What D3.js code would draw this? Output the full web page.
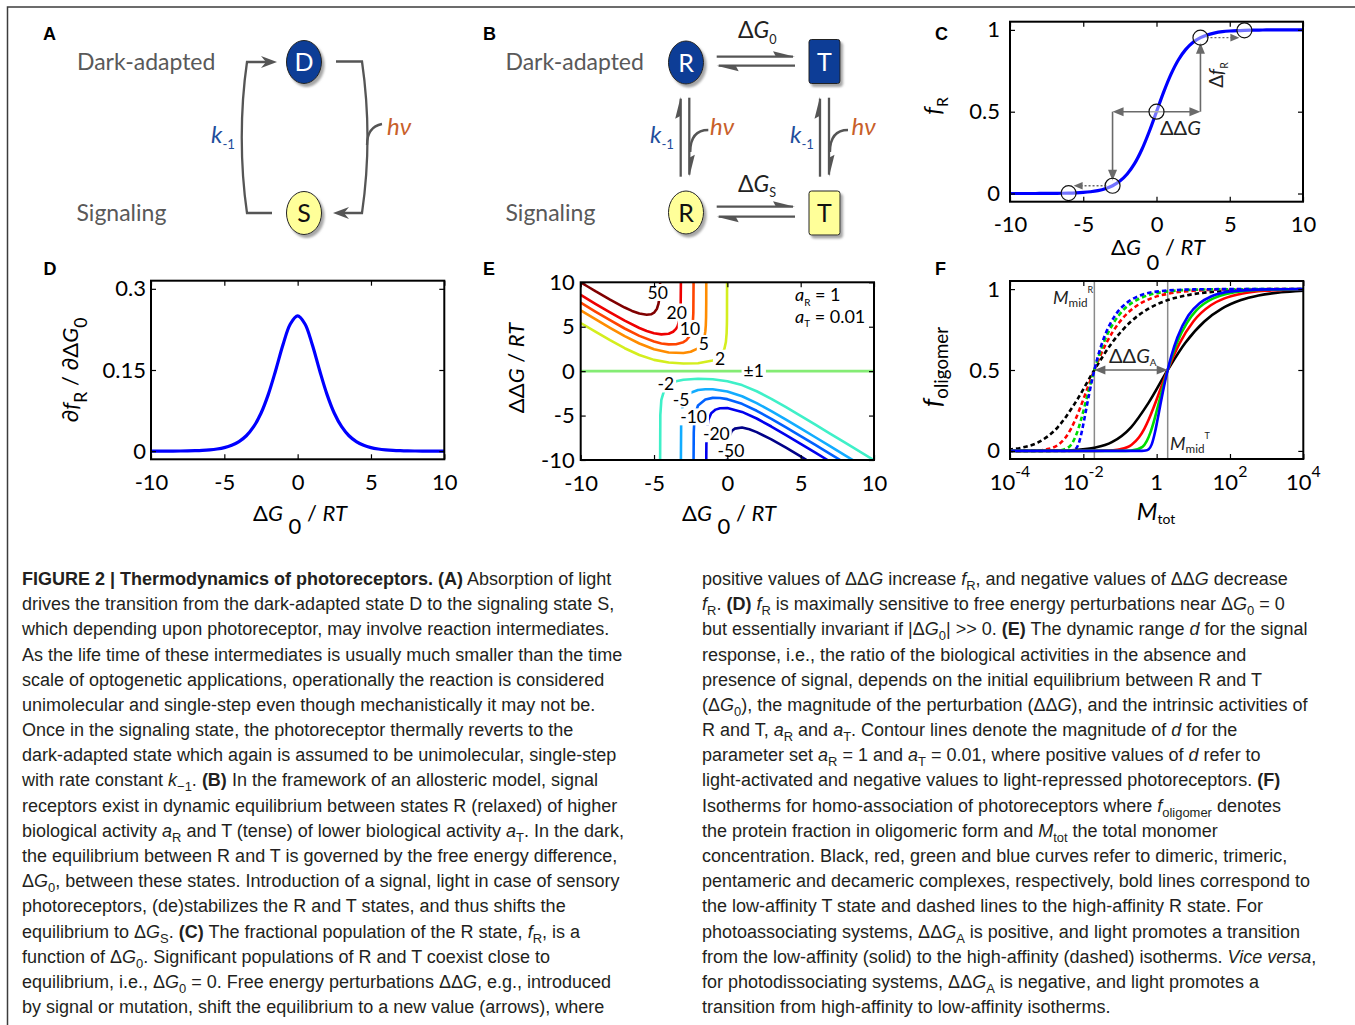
<!DOCTYPE html>
<html>
<head>
<meta charset="utf-8">
<script src="https://cdn.jsdelivr.net/npm/d3@7"></script>
<style>
  body { margin: 0; background: #fff; }
  svg { display: block; }
  text { font-family: Lato, 'Open Sans', 'DejaVu Sans', sans-serif; }
  .cap { font-family: 'Liberation Sans', Arial, sans-serif; font-size: 18px; fill: #231f20; }
  .plab { font-family: 'Liberation Sans', Arial, sans-serif; font-size: 18px; font-weight: bold; }
</style>
</head>
<body>
<svg id="fig" width="1355" height="1025"></svg>
<script>
// ---------- data ----------
// panel C / D : fraction of R state and its derivative vs dG0/RT
var gridX = [-10,-9.5,-9,-8.5,-8,-7.5,-7,-6.5,-6,-5.5,-5,-4.5,-4,-3.5,-3,-2.5,-2,-1.5,-1,-0.5,0,
             0.5,1,1.5,2,2.5,3,3.5,4,4.5,5,5.5,6,6.5,7,7.5,8,8.5,9,9.5,10];
var fR = [0.00005,0.00007,0.00012,0.0002,0.00034,0.00055,0.00091,0.0015,0.0025,0.0041,0.0067,0.011,0.018,0.0293,
          0.0474,0.0759,0.1192,0.1824,0.2689,0.3775,0.5,0.6225,0.7311,0.8176,0.8808,0.9241,0.9526,0.9707,0.982,
          0.989,0.9933,0.9959,0.9975,0.9985,0.99909,0.99945,0.99966,0.9998,0.99988,0.99993,0.99995];
var dfR = [0.00005,0.00007,0.00012,0.0002,0.00034,0.00055,0.00091,0.0015,0.0025,0.0041,0.0066,0.0109,0.0177,0.0285,
           0.0452,0.0701,0.105,0.1491,0.1966,0.235,0.25,0.235,0.1966,0.1491,0.105,0.0701,0.0452,0.0285,0.0177,
           0.0109,0.0066,0.0041,0.0025,0.0015,0.00091,0.00055,0.00034,0.0002,0.00012,0.00007,0.00005];
var markX = [-6, -3, 0, 3, 6];
var markY = [0.0025, 0.0474, 0.5, 0.9526, 0.9975];
var ddG = 3;

var linTicks = [-10, -5, 0, 5, 10];
var cTicksY = [0, 0.5, 1];
var dTicksY = [0, 0.15, 0.3];

// panel E : contour lines of dynamic range d, [dG0, ddG]
var eLevels = ['50', '20', '10', '5', '2', '±1', '-2', '-5', '-10', '-20', '-50'];
var eColors = ['#800000', '#ee0000', '#ff4400', '#ff8c00', '#d4ee1e', '#84ec74',
               '#3ff0c8', '#12acff', '#0062ff', '#0000ee', '#000088'];
var c50 = [[-10,9.99],[-9.5,9.5],[-9,9.0],[-8,8.05],[-7,7.16],[-6.5,6.78],[-6,6.48],[-5.5,6.34],[-5.2,6.4],
           [-5,6.58],[-4.8,7.03],[-4.7,7.56],[-4.65,8.08],[-4.62,8.62],[-4.6,9.29],[-4.585,10]];
var c20 = [[-10,8.58],[-9,7.58],[-8,6.61],[-7,5.68],[-6,4.86],[-5.5,4.52],[-5,4.27],[-4.5,4.14],[-4,4.21],
           [-3.7,4.43],[-3.5,4.76],[-3.4,5.04],[-3.3,5.54],[-3.25,5.98],[-3.2,6.87],[-3.18,7.81],[-3.168,10]];
var c10 = [[-10,7.7],[-9,6.71],[-8,5.74],[-7,4.8],[-6,3.97],[-5,3.33],[-4.5,3.12],[-4,3.01],[-3.5,3.03],
           [-3,3.26],[-2.8,3.48],[-2.6,3.88],[-2.5,4.23],[-2.4,4.88],[-2.35,5.57],[-2.32,6.55],[-2.303,10]];
var c5 = [[-10,6.84],[-9,5.85],[-8,4.88],[-7,3.94],[-6,3.11],[-5,2.47],[-4,2.1],[-3,2.04],[-2.5,2.18],[-2,2.56],
          [-1.8,2.9],[-1.7,3.17],[-1.6,3.6],[-1.55,3.94],[-1.5,4.5],[-1.47,5.14],[-1.45,6.09],[-1.44,7.71],[-1.438,10]];
var c2 = [[-10,5.42],[-9,4.44],[-8,3.48],[-7,2.58],[-6,1.82],[-5,1.27],[-4,0.97],[-3,0.86],[-2,0.89],[-1,1.19],
          [-0.5,1.68],[-0.3,2.13],[-0.2,2.52],[-0.1,3.28],[-0.05,4.24],[-0.03,5.34],[-0.025,6.05],[-0.02,10]];
var c1 = [[-10,0],[10,0]];
var cm2 = [[-4.585,-10],[-4.57,-4.92],[-4.5,-3.22],[-4.3,-2.11],[-4,-1.53],[-3.5,-1.14],[-3,-0.96],[-2,-0.85],
           [-1,-0.91],[0,-1.13],[1,-1.57],[2,-2.26],[3,-3.12],[4,-4.06],[5,-5.03],[6,-6.03],[7,-7.02],[8,-8.02],[10,-10.02]];
var cm5 = [[-3.168,-10],[-3.15,-5.74],[-3.1,-4.42],[-3,-3.57],[-2.8,-2.89],[-2.5,-2.44],[-2,-2.13],[-1.5,-2.03],
           [-1,-2.04],[0,-2.29],[1,-2.83],[2,-3.6],[3,-4.5],[4,-5.46],[5,-6.45],[6,-7.44],[7,-8.44],[8,-9.44],[8.56,-10]];
var cm10 = [[-2.303,-10],[-2.29,-6.88],[-2.25,-5.47],[-2.2,-4.83],[-2,-3.87],[-1.5,-3.18],[-1,-3.01],[-0.5,-3.02],
            [0,-3.15],[1,-3.68],[2,-4.46],[3,-5.36],[4,-6.33],[5,-7.31],[6,-8.31],[7,-9.3],[7.7,-10]];
var cm20 = [[-1.438,-10],[-1.43,-8.3],[-1.4,-6.73],[-1.3,-5.5],[-1.1,-4.74],[-0.8,-4.33],[-0.5,-4.17],[0,-4.16],
            [1,-4.59],[2,-5.33],[3,-6.23],[4,-7.19],[5,-8.18],[6,-9.17],[6.83,-10]];
var cm50 = [[-0.02,-10],[0,-9.2],[0.1,-7.52],[0.3,-6.74],[0.5,-6.47],[1,-6.35],[1.5,-6.54],[2,-6.86],[3,-7.68],
            [4,-8.62],[5,-9.6],[5.41,-10]];
var eLines = [c50, c20, c10, c5, c2, c1, cm2, cm5, cm10, cm20, cm50];
// label anchor points of the contour labels (data units)
var eLabelAt = [[-4.75,8.8],[-3.45,6.6],[-2.55,4.75],[-1.6,3.05],[-0.5,1.4],[1.8,0],
                [-4.2,-1.5],[-3.15,-3.2],[-2.3,-5.2],[-0.75,-7.1],[0.25,-8.95]];

// panel F : isotherm shapes, [Mtot / Mmid, f_oligomer]
var oligoNames = ['dimer', 'trimer', 'pentamer', 'decamer'];
var oligoColors = ['#000000', '#ff0000', '#00dd00', '#0000ff'];
var dimer = [[1e-5,0.00002],[1e-4,0.0002],[1e-3,0.002],[0.003,0.0059],[0.01,0.0192],[0.03,0.0537],[0.1,0.1459],
             [0.3,0.2968],[1,0.5],[3,0.6667],[10,0.8],[30,0.8789],[100,0.932],[300,0.96],[1000,0.978],
             [3000,0.9871],[1e4,0.993],[3e4,0.9959],[1e5,0.9978],[1e6,0.9993]];
var trimer = [[1e-5,0],[0.001,0.000004],[0.005,0.0001],[0.0202,0.0016],[0.0301,0.0036],[0.0505,0.0099],
              [0.104,0.0385],[0.1635,0.0826],[0.232,0.138],[0.3125,0.2],[0.408,0.265],[0.656,0.39],[1,0.5],
              [2.072,0.662],[5,0.8],[15,0.9],[34,0.941],[111,0.973],[505,0.99],[4010,0.9975],[1e5,0.9997],[1e6,0.99994]];
var pentamer = [[1e-5,0],[0.05,0.0001],[0.1,0.0016],[0.2051,0.025],[0.2656,0.0588],[0.3389,0.1147],[0.434,0.1936],
                [0.5638,0.2906],[0.7452,0.396],[1,0.5],[1.844,0.675],[3.389,0.793],[6.043,0.868],[17,0.941],
                [123,0.988],[514,0.996],[3891,0.9992],[1e6,1]];
var decamer = [[1e-5,0],[0.1,0],[0.2,0.0003],[0.2505,0.002],[0.303,0.01],[0.3641,0.0388],[0.4537,0.1183],
               [0.5075,0.1723],[0.6243,0.279],[0.7393,0.364],[1,0.5],[1.26,0.5873],[1.847,0.702],[3.696,0.838],
               [7.543,0.914],[15.16,0.954],[55.78,0.986],[513,0.998],[3171,0.9996],[1e6,1]];
var oligoShapes = [dimer, trimer, pentamer, decamer];
var mmidT = 2, mmidR = 0.02;
var fTicksX = [1e-4, 1e-2, 1, 1e2, 1e4];
var fTickText = ['10[^:-4]', '10[^:-2]', '1', '10[^:2]', '10[^:4]'];
var fTicksY = [0, 0.5, 1];

// caption
var captionLeft = [
  "[b:FIGURE 2 | Thermodynamics of photoreceptors. (A)] Absorption of light",
  "drives the transition from the dark-adapted state D to the signaling state S,",
  "which depending upon photoreceptor, may involve reaction intermediates.",
  "As the life time of these intermediates is usually much smaller than the time",
  "scale of optogenetic applications, operationally the reaction is considered",
  "unimolecular and single-step even though mechanistically it may not be.",
  "Once in the signaling state, the photoreceptor thermally reverts to the",
  "dark-adapted state which again is assumed to be unimolecular, single-step",
  "with rate constant [i:k][_:−1]. [b:(B)] In the framework of an allosteric model, signal",
  "receptors exist in dynamic equilibrium between states R (relaxed) of higher",
  "biological activity [i:a][_:R] and T (tense) of lower biological activity [i:a][_:T]. In the dark,",
  "the equilibrium between R and T is governed by the free energy difference,",
  "Δ[i:G][_:0], between these states. Introduction of a signal, light in case of sensory",
  "photoreceptors, (de)stabilizes the R and T states, and thus shifts the",
  "equilibrium to Δ[i:G][_:S]. [b:(C)] The fractional population of the R state, [i:f][_:R], is a",
  "function of Δ[i:G][_:0]. Significant populations of R and T coexist close to",
  "equilibrium, i.e., Δ[i:G][_:0] = 0. Free energy perturbations ΔΔ[i:G], e.g., introduced",
  "by signal or mutation, shift the equilibrium to a new value (arrows), where"
];
var captionRight = [
  "positive values of ΔΔ[i:G] increase [i:f][_:R], and negative values of ΔΔ[i:G] decrease",
  "[i:f][_:R]. [b:(D)] [i:f][_:R] is maximally sensitive to free energy perturbations near Δ[i:G][_:0] = 0",
  "but essentially invariant if |Δ[i:G][_:0]| >> 0. [b:(E)] The dynamic range [i:d] for the signal",
  "response, i.e., the ratio of the biological activities in the absence and",
  "presence of signal, depends on the initial equilibrium between R and T",
  "(Δ[i:G][_:0]), the magnitude of the perturbation (ΔΔ[i:G]), and the intrinsic activities of",
  "R and T, [i:a][_:R] and [i:a][_:T]. Contour lines denote the magnitude of [i:d] for the",
  "parameter set [i:a][_:R] = 1 and [i:a][_:T] = 0.01, where positive values of [i:d] refer to",
  "light-activated and negative values to light-repressed photoreceptors. [b:(F)]",
  "Isotherms for homo-association of photoreceptors where [i:f][_:oligomer] denotes",
  "the protein fraction in oligomeric form and [i:M][_:tot] the total monomer",
  "concentration. Black, red, green and blue curves refer to dimeric, trimeric,",
  "pentameric and decameric complexes, respectively, bold lines correspond to",
  "the low-affinity T state and dashed lines to the high-affinity R state. For",
  "photoassociating systems, ΔΔ[i:G][_:A] is positive, and light promotes a transition",
  "from the low-affinity (solid) to the high-affinity (dashed) isotherms. [i:Vice versa],",
  "for photodissociating systems, ΔΔ[i:G][_:A] is negative, and light promotes a",
  "transition from high-affinity to low-affinity isotherms."
];

// ---------- helpers ----------
var svg = d3.select('#fig');
svg.append('rect').attr('width', 1355).attr('height', 1025).attr('fill', '#fff');
var defs = svg.append('defs');
defs.append('filter').attr('id', 'sh').attr('x', '-40%').attr('y', '-40%').attr('width', '180%').attr('height', '180%')
  .append('feDropShadow').attr('dx', 2.5).attr('dy', 3).attr('stdDeviation', 1.3)
  .attr('flood-color', '#888').attr('flood-opacity', 0.75);

// text with [b:..] [i:..] [_:..] [^:..] markup
function rich(parent, str, o) {
  o = Object.assign({ size: 22, sub: 0.3, subSize: 0.72, sup: -0.45, supSize: 0.72 }, o || {});
  var t = parent.append('text').attr('font-size', o.size);
  var re = /\[(b|i|_|\^):([^\]]*)\]/g, last = 0, m, cur = 0;
  function add(txt, kind) {
    if (!txt) return;
    var sp = t.append('tspan').text(txt);
    var want = kind === '_' ? o.sub * o.size : kind === '^' ? o.sup * o.size : 0;
    if (want !== cur) { sp.attr('dy', want - cur); cur = want; }
    if (kind === '_') sp.attr('font-size', o.size * o.subSize);
    if (kind === '^') sp.attr('font-size', o.size * o.supSize);
    if (kind === 'b') sp.attr('font-weight', 'bold');
    if (kind === 'i') sp.attr('font-style', 'italic');
  }
  while ((m = re.exec(str)) !== null) {
    add(str.slice(last, m.index), '');
    add(m[2], m[1]);
    last = re.lastIndex;
  }
  add(str.slice(last), '');
  return t;
}

function clip(id, x, y) {
  defs.append('clipPath').attr('id', id).append('rect')
    .attr('x', x.range()[0]).attr('y', y.range()[1])
    .attr('width', x.range()[1] - x.range()[0]).attr('height', y.range()[0] - y.range()[1]);
  return 'url(#' + id + ')';
}

function axes(x, y, xt, yt, o) {
  var g = svg.append('g');
  var X0 = x.range()[0], X1 = x.range()[1], Y0 = y.range()[0], Y1 = y.range()[1];
  function style(a) {
    a.attr('font-family', null).attr('font-size', 22);
    a.select('.domain').remove();
    a.selectAll('line').attr('stroke', '#000').attr('stroke-width', 1.2);
    a.selectAll('text').attr('fill', '#000');
  }
  var str = function (d) { return String(d); };
  g.append('g').attr('transform', 'translate(0,' + Y0 + ')')
    .call(d3.axisBottom(x).tickValues(xt).tickSizeInner(-5).tickSizeOuter(0).tickPadding(15)
      .tickFormat(o.noX ? '' : str)).call(style);
  g.append('g').attr('transform', 'translate(0,' + Y1 + ')')
    .call(d3.axisTop(x).tickValues(xt).tickSizeInner(-5).tickSizeOuter(0).tickFormat('')).call(style);
  g.append('g').attr('transform', 'translate(' + X0 + ',0)')
    .call(d3.axisLeft(y).tickValues(yt).tickSizeInner(-5).tickSizeOuter(0).tickPadding(o.ypad).tickFormat(str)).call(style);
  g.append('g').attr('transform', 'translate(' + X1 + ',0)')
    .call(d3.axisRight(y).tickValues(yt).tickSizeInner(-5).tickSizeOuter(0).tickFormat('')).call(style);
  g.append('rect').attr('x', X0).attr('y', Y1).attr('width', X1 - X0).attr('height', Y0 - Y1)
    .attr('fill', 'none').attr('stroke', '#000').attr('stroke-width', 2);
  return g;
}

// straight arrow with filled triangular heads
function arrow(g, p1, p2, o) {
  o = Object.assign({ color: '#6a6a6a', w: 1.6, hl: 10, hw: 4.2, both: false, dash: null }, o || {});
  var dx = p2[0] - p1[0], dy = p2[1] - p1[1], L = Math.hypot(dx, dy), ux = dx / L, uy = dy / L;
  var a = o.both ? [p1[0] + ux * o.hl * 0.8, p1[1] + uy * o.hl * 0.8] : p1;
  var b = [p2[0] - ux * o.hl * 0.8, p2[1] - uy * o.hl * 0.8];
  g.append('line').attr('x1', a[0]).attr('y1', a[1]).attr('x2', b[0]).attr('y2', b[1])
    .attr('stroke', o.color).attr('stroke-width', o.w).attr('stroke-dasharray', o.dash);
  function head(t, vx, vy) {
    var bx = t[0] - vx * o.hl, by = t[1] - vy * o.hl;
    g.append('polygon').attr('fill', o.color)
      .attr('points', [t, [bx - vy * o.hw, by + vx * o.hw], [bx + vy * o.hw, by - vx * o.hw]].map(String).join(' '));
  }
  head(p2, ux, uy);
  if (o.both) head(p1, -ux, -uy);
}

// ---------- frame + panel letters ----------
svg.append('path').attr('d', 'M7.5,1025 L7.5,7 L1355,7').attr('fill', 'none')
  .attr('stroke', '#3c3c3c').attr('stroke-width', 1.5);
[['A', 43, 39.5], ['B', 483, 39.5], ['C', 935, 39.5], ['D', 43.5, 275], ['E', 483, 275], ['F', 935, 275]]
  .forEach(function (p) { svg.append('text').attr('class', 'plab').attr('x', p[1]).attr('y', p[2]).text(p[0]); });

// ---------- panels A and B (schemes) ----------
var dark = '#083c96', pale = '#ffff99', ink = '#555', kCol = '#1f4e9c', hvCol = '#c8602a';

function node(cx, cy, shape, fill, letter, tc) {
  var g = svg.append('g');
  var s = shape === 'e'
    ? g.append('ellipse').attr('cx', cx).attr('cy', cy).attr('rx', 17.5).attr('ry', 21.5)
    : g.append('rect').attr('x', cx - 15.5).attr('y', cy - 22).attr('width', 31).attr('height', 44).attr('rx', 2.5);
  s.attr('fill', fill).attr('stroke', '#222').attr('stroke-width', 1).attr('filter', 'url(#sh)');
  g.append('text').attr('x', cx).attr('y', cy + 9).attr('text-anchor', 'middle')
    .attr('font-size', 25).attr('fill', tc).text(letter);
}
function barbHead(tip, ux, uy) {
  var L = 16, W = 6, N = 11;
  svg.append('polygon').attr('fill', ink).attr('points', [
    tip, [tip[0] - ux * L - uy * W, tip[1] - uy * L + ux * W],
    [tip[0] - ux * N, tip[1] - uy * N], [tip[0] - ux * L + uy * W, tip[1] - uy * L - ux * W]
  ].map(String).join(' '));
}
function harpoon(p1, p2, n) {
  var dx = p2[0] - p1[0], dy = p2[1] - p1[1], L = Math.hypot(dx, dy), ux = dx / L, uy = dy / L;
  svg.append('line').attr('x1', p1[0]).attr('y1', p1[1]).attr('x2', p2[0] - ux * 2).attr('y2', p2[1] - uy * 2)
    .attr('stroke', ink).attr('stroke-width', 2.3);
  var hl = 22, hw = 5.5;
  svg.append('polygon').attr('fill', ink).attr('points', [
    p2, [p2[0] - ux * hl + n[0] * hw, p2[1] - uy * hl + n[1] * hw], [p2[0] - ux * (hl - 3), p2[1] - uy * (hl - 3)]
  ].map(String).join(' '));
}
function label(x, y, str, col, o) {
  rich(svg, str, o).attr('x', x).attr('y', y).attr('fill', col);
}

// A
label(77, 70, 'Dark-adapted', '#595959', { size: 23 });
label(76.5, 221, 'Signaling', '#595959', { size: 23 });
svg.append('path').attr('d', 'M272,213 L247,213 C240,165 240,110 247,62 L266,62')
  .attr('fill', 'none').attr('stroke', ink).attr('stroke-width', 2.3);
barbHead([277, 62], 1, 0);
svg.append('path').attr('d', 'M336,61.5 L362,61.5 C369,110 369,165 362,213 L344,213')
  .attr('fill', 'none').attr('stroke', ink).attr('stroke-width', 2.3);
barbHead([333, 213], -1, 0);
svg.append('path').attr('d', 'M367,145 C367,133 372,126 382,124')
  .attr('fill', 'none').attr('stroke', ink).attr('stroke-width', 2.3);
label(211, 143, '[i:k][_:-1]', kCol, { size: 24, sub: 0.25, subSize: 0.55 });
label(387, 135, '[i:hν]', hvCol, { size: 24 });
node(304, 62, 'e', dark, 'D', '#fff');
node(304, 213, 'e', pale, 'S', '#111');

// B
label(505.5, 70, 'Dark-adapted', '#595959', { size: 23 });
label(505.5, 221, 'Signaling', '#595959', { size: 23 });
harpoon([716.7, 56.7], [795, 56.7], [0, -1]);
harpoon([795, 65.7], [716.7, 65.7], [0, 1]);
harpoon([716.7, 206.7], [795, 206.7], [0, -1]);
harpoon([795, 216.7], [716.7, 216.7], [0, 1]);
[[680.7, 689.3, 650, 710], [820, 829, 790, 851.5]].forEach(function (c) {
  harpoon([c[0], 176.7], [c[0], 96.7], [-1, 0]);
  harpoon([c[1], 97.7], [c[1], 176.7], [1, 0]);
  svg.append('path').attr('d', 'M' + (c[1] + 19) + ',130 C' + (c[1] + 7) + ',130 ' + (c[1] + 1) + ',138 ' + (c[1] + 1) + ',152')
    .attr('fill', 'none').attr('stroke', ink).attr('stroke-width', 2.3);
  label(c[2], 143, '[i:k][_:-1]', kCol, { size: 24, sub: 0.25, subSize: 0.55 });
  label(c[3], 135, '[i:hν]', hvCol, { size: 24 });
});
label(738, 38, 'Δ[i:G][_:0]', '#222', { size: 23, sub: 0.25, subSize: 0.55 });
label(738, 191.5, 'Δ[i:G][_:S]', '#222', { size: 23, sub: 0.25, subSize: 0.55 });
node(686, 62.5, 'e', dark, 'R', '#fff');
node(824.5, 61.5, 'r', dark, 'T', '#fff');
node(686, 212.5, 'e', pale, 'R', '#111');
node(824.5, 213, 'r', pale, 'T', '#111');

// ---------- panel C ----------
var xC = d3.scaleLinear().domain([-10, 10]).range([1010, 1303]);
var yC = d3.scaleLinear().domain([-0.05, 1.05]).range([201.7, 21.7]);
var gC = svg.append('g');
gC.append('path').datum(gridX.map(function (g, i) { return [g, fR[i]]; }))
  .attr('d', d3.line().x(function (d) { return xC(d[0]); }).y(function (d) { return yC(d[1]); }).curve(d3.curveCatmullRom))
  .attr('fill', 'none').attr('stroke', '#0000ff').attr('stroke-width', 3.2).attr('clip-path', clip('clipC', xC, yC));
var pL = [xC(-ddG), yC(0.5)], pR = [xC(ddG), yC(0.5)];
arrow(gC, pL, pR, { both: true, hl: 11, hw: 4.5 });
arrow(gC, pR, [xC(ddG), yC(markY[3]) + 5], { hl: 11, hw: 4.5 });
arrow(gC, pL, [xC(-ddG), yC(markY[1]) - 5], { hl: 11, hw: 4.5 });
arrow(gC, [xC(markX[3]) + 6, yC(markY[3])], [xC(markX[4]) - 5, yC(markY[3])], { dash: '2,2', w: 1.3, hl: 9, hw: 3.8 });
arrow(gC, [xC(markX[1]) - 6, yC(markY[1])], [xC(markX[0]) + 5, yC(markY[1])], { dash: '2,2', w: 1.3, hl: 9, hw: 3.8 });
gC.selectAll('circle.m').data(markX).enter().append('circle').attr('class', 'm')
  .attr('cx', function (d) { return xC(d); }).attr('cy', function (d, i) { return yC(markY[i]); })
  .attr('r', 7.5).attr('fill', '#fff').attr('fill-opacity', 0.45).attr('stroke', '#111').attr('stroke-width', 1.2);
rich(gC, 'ΔΔ[i:G]', { size: 20 }).attr('x', 1160).attr('y', 135).attr('fill', '#222');
rich(gC.append('g').attr('transform', 'translate(1223,75) rotate(-90)'), 'Δ[i:f][_:R]', { size: 19, sub: 0.25, subSize: 0.55 })
  .attr('text-anchor', 'middle').attr('fill', '#222');
axes(xC, yC, linTicks, cTicksY, { ypad: 10 });
rich(svg.append('g').attr('transform', 'translate(941,106) rotate(-90)'), '[i:f][_:R]', { size: 24, sub: 0.3, subSize: 0.65 })
  .attr('text-anchor', 'middle');
rich(svg, 'Δ[i:G] [_:0] / [i:RT]', { size: 22, sub: 0.7, subSize: 1 }).attr('x', 1158).attr('y', 254.5).attr('text-anchor', 'middle');

// ---------- panel D ----------
var xD = d3.scaleLinear().domain([-10, 10]).range([151, 444.3]);
var yD = d3.scaleLinear().domain([-0.015, 0.315]).range([459.3, 280.7]);
svg.append('path').datum(gridX.map(function (g, i) { return [g, dfR[i]]; }))
  .attr('d', d3.line().x(function (d) { return xD(d[0]); }).y(function (d) { return yD(d[1]); }).curve(d3.curveCatmullRom))
  .attr('fill', 'none').attr('stroke', '#0000ff').attr('stroke-width', 3.2).attr('clip-path', clip('clipD', xD, yD));
axes(xD, yD, linTicks, dTicksY, { ypad: 5 });
rich(svg.append('g').attr('transform', 'translate(78,370) rotate(-90)'), '∂[i:f][_:R]  / ∂Δ[i:G][_:0]', { size: 22, sub: 0.4, subSize: 0.8 })
  .attr('text-anchor', 'middle');
rich(svg, 'Δ[i:G] [_:0] / [i:RT]', { size: 22, sub: 0.6, subSize: 1 }).attr('x', 300).attr('y', 521).attr('text-anchor', 'middle');

// ---------- panel E ----------
var xE = d3.scaleLinear().domain([-10, 10]).range([580.7, 874]);
var yE = d3.scaleLinear().domain([-10, 10]).range([460, 282.3]);
var gE = svg.append('g').attr('clip-path', clip('clipE', xE, yE));
var lineE = d3.line().x(function (d) { return xE(d[0]); }).y(function (d) { return yE(d[1]); });
gE.selectAll('path.c').data(eLines).enter().append('path').attr('class', 'c')
  .attr('d', lineE).attr('fill', 'none').attr('stroke-width', 2.6).attr('stroke-linejoin', 'round')
  .attr('stroke', function (d, i) { return eColors[i]; });
eLevels.forEach(function (lv, i) {
  var t = gE.append('text').attr('x', xE(eLabelAt[i][0])).attr('y', yE(eLabelAt[i][1]) + 6)
    .attr('text-anchor', 'middle').attr('font-size', 17.5).attr('fill', '#000').text(lv);
  var b = t.node().getBBox();
  gE.insert('rect', function () { return t.node(); })
    .attr('x', b.x - 2).attr('y', b.y + 2).attr('width', b.width + 4).attr('height', b.height - 4).attr('fill', '#fff');
});
rich(svg, '[i:a][_:R] = 1', { size: 18, sub: 0.25, subSize: 0.55 }).attr('x', 795).attr('y', 301);
rich(svg, '[i:a][_:T] = 0.01', { size: 18, sub: 0.25, subSize: 0.55 }).attr('x', 795).attr('y', 322.5);
axes(xE, yE, linTicks, linTicks, { ypad: 6 });
rich(svg.append('g').attr('transform', 'translate(524,368) rotate(-90)'), 'ΔΔ[i:G] / [i:RT]', { size: 22 })
  .attr('text-anchor', 'middle');
rich(svg, 'Δ[i:G] [_:0] / [i:RT]', { size: 22, sub: 0.6, subSize: 1 }).attr('x', 729).attr('y', 521).attr('text-anchor', 'middle');

// ---------- panel F ----------
var xF = d3.scaleLog().domain([1e-4, 1e4]).range([1010, 1303.3]);
var yF = d3.scaleLinear().domain([-0.05, 1.05]).range([459, 281]);
var gF = svg.append('g').attr('clip-path', clip('clipF', xF, yF));
[mmidR, mmidT].forEach(function (m) {
  gF.append('line').attr('x1', xF(m)).attr('x2', xF(m)).attr('y1', yF.range()[0]).attr('y2', yF.range()[1])
    .attr('stroke', '#8a8a8a').attr('stroke-width', 1.5);
});
[[mmidR, '4.5,3'], [mmidT, null]].forEach(function (st) {
  oligoShapes.forEach(function (shape, i) {
    gF.append('path').attr('class', oligoNames[i])
      .datum(shape)
      .attr('d', d3.line().x(function (d) { return xF(d[0] * st[0]); }).y(function (d) { return yF(d[1]); }).curve(d3.curveMonotoneX))
      .attr('fill', 'none').attr('stroke', oligoColors[i]).attr('stroke-width', 2.6).attr('stroke-dasharray', st[1]);
  });
});
arrow(svg, [xF(mmidR), yF(0.5)], [xF(mmidT), yF(0.5)], { both: true, hl: 11, hw: 4.5, color: '#666' });
rich(svg, 'ΔΔ[i:G][_:A]', { size: 20, sub: 0.15, subSize: 0.5 }).attr('x', 1109).attr('y', 363).attr('fill', '#222');
rich(svg, '[i:M][_:mid][^:R]', { size: 18, sub: 0.17, subSize: 0.65, sup: -0.62, supSize: 0.5 })
  .attr('x', 1053).attr('y', 304).attr('fill', '#222');
rich(svg, '[i:M][_:mid][^:T]', { size: 18, sub: 0.17, subSize: 0.65, sup: -0.62, supSize: 0.5 })
  .attr('x', 1170).attr('y', 450).attr('fill', '#222');
axes(xF, yF, fTicksX, fTicksY, { ypad: 10, noX: true });
fTicksX.forEach(function (v, i) {
  rich(svg, fTickText[i], { size: 22, sup: -0.6, supSize: 0.72 })
    .attr('x', xF(v)).attr('y', 490).attr('text-anchor', 'middle');
});
rich(svg.append('g').attr('transform', 'translate(941,367) rotate(-90)'), '[i:f][_:oligomer]', { size: 26, sub: 0.25, subSize: 0.72 })
  .attr('text-anchor', 'middle');
rich(svg, '[i:M][_:tot]', { size: 24, sub: 0.18, subSize: 0.58 }).attr('x', 1156).attr('y', 520).attr('text-anchor', 'middle');

// ---------- caption ----------
function caption(lines, x) {
  lines.forEach(function (s, i) {
    rich(svg, s, { size: 18, sub: 0.28, subSize: 0.72 }).attr('class', 'cap').attr('x', x).attr('y', 585 + i * 25.18);
  });
}
caption(captionLeft, 22);
caption(captionRight, 702);
</script>
</body>
</html>
